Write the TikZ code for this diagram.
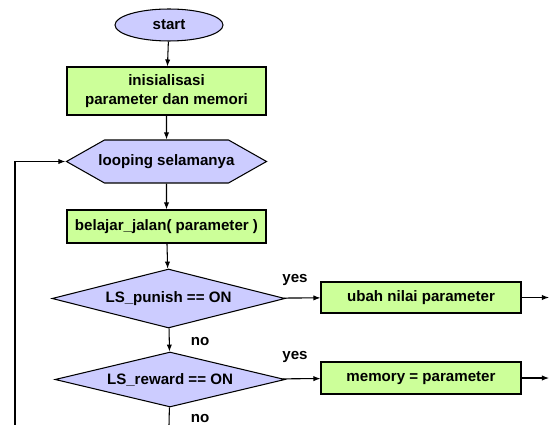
\documentclass[tikz,border=0pt]{standalone}
\usepackage{fontspec}
\setmainfont{Liberation Sans}
\usetikzlibrary{shapes.geometric,shapes.symbols,arrows.meta}
\definecolor{boxgreen}{HTML}{CCFF99}
\definecolor{boxblue}{HTML}{CCCCFF}
\tikzset{
	prosesbox/.style={draw, fill=boxgreen, align=center, minimum width=3.98cm, inner sep=1pt},
	keputusan/.style={draw, diamond, aspect=3.95, fill=boxblue, inner sep=0pt, minimum width=4.66cm, minimum height=1.18cm},
	label/.style={inner sep=0pt}
}
\begin{document}
\begin{tikzpicture}[x=0.02cm, y=-0.02cm, >={Latex[length=4pt,width=3pt]}, line width=0.6pt,
	font=\fontsize{8.6}{10.5}\selectfont\bfseries]
		\useasboundingbox (0,0) rectangle (550,425);
		% start dan inisialisasi
		\node[draw, ellipse, fill=boxblue, minimum width=2.16cm, minimum height=0.64cm, inner sep=0pt] (Start) at (169,25) {start};
		\node[prosesbox, minimum height=0.96cm] (Init) at (166.5,91) {inisialisasi\\parameter dan memori};
		\draw[->] (Start) -- (Init);
		
		\node[draw, signal, signal to=west and east, signal pointer angle=59, fill=boxblue, minimum height=0.86cm, inner xsep=-0.12cm, inner ysep=1pt] (Loop) at (166.5,161.5) {looping selamanya};
		\draw[->] (Init) -- (Loop);
		
		\node[prosesbox, minimum height=0.66cm] (Belajar) at (166.5,226.5) {belajar\_jalan( parameter )};
		\draw[->] (Loop) -- (Belajar);
		
		% cek punish
		\node[keputusan] (Punish) at (168.5,298.5) {LS\_punish == ON};
		\node[prosesbox, minimum width=4.0cm, minimum height=0.62cm] (Ubah) at (421,297.5) {ubah nilai parameter};
		\draw[->] (Belajar) -- (Punish);
		\draw[->] (Punish) -- (Ubah);
		\node[label] (Yes1) at (295,280) {yes};
		
		% cek reward
		\node[keputusan, minimum width=4.6cm, minimum height=1.10cm] (Reward) at (170,379.5) {LS\_reward == ON};
		\node[prosesbox, minimum width=4.0cm, minimum height=0.64cm] (Memory) at (421,378) {memory = parameter};
		\draw[->] (Punish) -- (Reward);
		\draw[->] (Reward) -- (Memory);
		\node[label] (No1) at (200,342) {no};
		\node[label] (Yes2) at (295,357) {yes};
		\node[label] (No2) at (200,419) {no};
		
		% keluar gambar
		\coordinate (OutUbah) at (549,297.5);
		\coordinate (OutMemory) at (549,378);
		\coordinate (Bottom) at (169,425);
		\coordinate (LoopIn) at (15,425);
		\draw[->] (Ubah) -- (OutUbah);
		\draw[->] (Memory) -- (OutMemory);
		\draw (Reward) -- (Bottom);
		\draw[->] (LoopIn) |- (Loop.west);
		
	\end{tikzpicture}
\end{document}
